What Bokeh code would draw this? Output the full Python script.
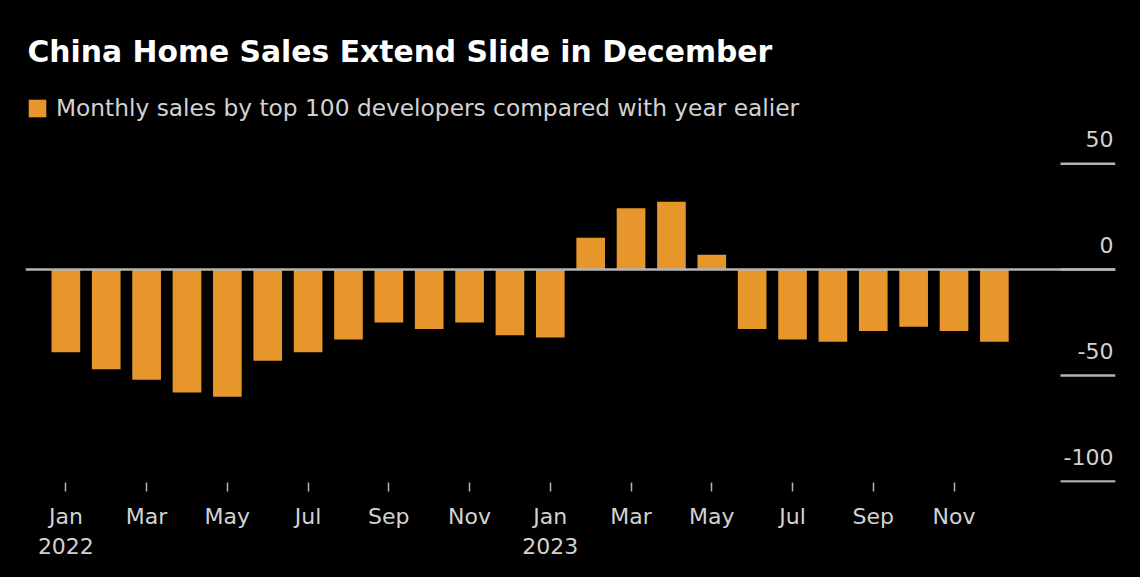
from bokeh.plotting import figure
from bokeh.models import ColumnDataSource, Range1d, FixedTicker, Span, Legend, LegendItem
from bokeh.core.properties import value
from bokeh.embed import file_html
from bokeh.resources import INLINE
import numpy as np

# ---- data ----
months = ["2022-01", "2022-02", "2022-03", "2022-04", "2022-05", "2022-06",
          "2022-07", "2022-08", "2022-09", "2022-10", "2022-11", "2022-12",
          "2023-01", "2023-02", "2023-03", "2023-04", "2023-05", "2023-06",
          "2023-07", "2023-08", "2023-09", "2023-10", "2023-11", "2023-12"]
sales_yoy = [-39, -47, -52, -58, -60, -43, -39, -33, -25, -28, -25, -31,
             -32, 15, 29, 32, 7, -28, -33, -34, -29, -27, -29, -34]
x_tick_positions = [0, 2, 4, 6, 8, 10, 12, 14, 16, 18, 20, 22]
x_tick_labels = ["Jan\n2022", "Mar", "May", "Jul", "Sep", "Nov",
                 "Jan\n2023", "Mar", "May", "Jul", "Sep", "Nov"]
y_ticks = [50, 0, -50, -100]
y_tick_labels = ["50", "0", "-50", "-100"]

TITLE = "China Home Sales Extend Slide in December"
SUBTITLE = "Monthly sales by top 100 developers compared with year ealier"

BAR = "#E6962B"
TXT = "#d2d2d2"
LINE = "#b4b4b4"
FONT = "DejaVu Sans"

idx = list(range(len(months)))
src = ColumnDataSource(dict(x=idx, y=sales_yoy, m=months))

X_START, X_END = -1, 26
p = figure(width=1124, height=561, output_backend="svg", toolbar_location=None,
           x_range=Range1d(X_START, X_END), y_range=Range1d(-100.47, 83.1),
           y_axis_location=None, min_border_left=25, min_border_right=9,
           min_border_top=93, min_border_bottom=77)

p.background_fill_color = "black"
p.border_fill_color = "black"
p.outline_line_color = None
p.grid.visible = False

p.title.text = TITLE
p.title.text_font = FONT
p.title.text_font_size = "29.8px"
p.title.text_font_style = "bold"
p.title.text_color = "white"
p.title.align = "left"
p.title.offset = 2
p.title.standoff = 50

bars = p.vbar(x="x", top="y", bottom=0, width=0.71, source=src,
              fill_color=BAR, line_color=None)

p.add_layout(Span(location=0, dimension="width", line_color=LINE, line_width=2.5))

# short tick lines at right
p.ray(x=[X_END] * len(y_ticks), y=y_ticks, length=55, length_units="screen",
      angle=np.pi, line_color=LINE, line_width=2.5)
p.text(x=[X_END] * len(y_ticks), y=y_ticks, text=y_tick_labels,
       text_align="right", text_baseline="alphabetic", x_offset=-2, y_offset=-25,
       text_font=value(FONT), text_font_size="22px", text_color=TXT)

ax = p.xaxis[0]
ax.ticker = FixedTicker(ticks=x_tick_positions)
ax.major_label_overrides = {t: l for t, l in zip(x_tick_positions, x_tick_labels)}
ax.axis_line_color = None
ax.major_tick_in = 0
ax.major_tick_out = 9
ax.major_tick_line_color = LINE
ax.major_tick_line_width = 1.5
ax.minor_tick_line_color = None
ax.major_label_text_font = FONT
ax.major_label_text_font_size = "22px"
ax.major_label_text_color = TXT
ax.major_label_standoff = 12

legend = Legend(items=[LegendItem(label=SUBTITLE, renderers=[bars])],
                location="top_left", margin=1, padding=0,
                glyph_width=22, glyph_height=22, label_standoff=8,
                label_text_font=FONT, label_text_font_size="23.3px",
                label_text_color=TXT, border_line_color=None,
                background_fill_alpha=0)
p.add_layout(legend)

html = file_html(p, INLINE)
html = html.replace("<head>", "<head><style>html, body { background: #000000 !important; }</style>", 1)
open("out.html", "w").write(html)
